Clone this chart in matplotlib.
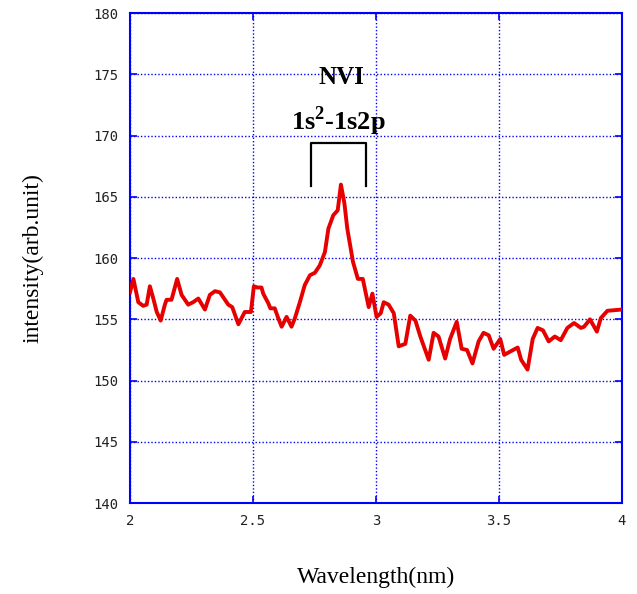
import numpy as np
import matplotlib
matplotlib.use("Agg")
import matplotlib.pyplot as plt

plt.rcParams["mathtext.fontset"] = "custom"
plt.rcParams["mathtext.rm"] = "Liberation Serif:bold"
plt.rcParams["mathtext.bf"] = "Liberation Serif:bold"

# spectrum (wavelength in nm, intensity in arb. unit)
wavelength = [2.000, 2.014, 2.034, 2.054, 2.068, 2.081, 2.095, 2.109, 2.125, 2.142,
              2.149, 2.169, 2.192, 2.210, 2.237, 2.257, 2.278, 2.305, 2.325, 2.346,
              2.366, 2.400, 2.416, 2.441, 2.467, 2.492, 2.504,
              2.518, 2.535, 2.542, 2.563, 2.571, 2.589, 2.603, 2.617, 2.637, 2.657,
              2.671, 2.691, 2.711, 2.732, 2.752, 2.772, 2.793, 2.807, 2.827, 2.845,
              2.858, 2.872, 2.884, 2.907, 2.927, 2.947, 2.971, 2.986, 3.003, 3.020,
              3.032, 3.052, 3.073, 3.093, 3.120, 3.140, 3.161, 3.181, 3.215, 3.235,
              3.255, 3.282, 3.302, 3.329, 3.349, 3.371, 3.393, 3.418, 3.438, 3.459,
              3.479, 3.506, 3.522, 3.549, 3.577, 3.591, 3.617, 3.638, 3.658, 3.680,
              3.703, 3.728, 3.752, 3.779, 3.806, 3.834, 3.847, 3.871, 3.899, 3.915,
              3.942, 4.000]
intensity = [157.2, 158.3, 156.4, 156.1, 156.2, 157.7, 156.7, 155.6, 154.9, 156.2,
             156.6, 156.6, 158.3, 157.0, 156.2, 156.4, 156.7, 155.8, 157.0, 157.3,
             157.2, 156.2, 156.0, 154.6, 155.6, 155.6, 157.7,
             157.6, 157.6, 157.1, 156.3, 155.9, 155.9, 155.1, 154.4, 155.2, 154.4,
             155.1, 156.4, 157.8, 158.6, 158.8, 159.4, 160.5, 162.4, 163.5, 163.9,
             166.0, 164.5, 162.4, 159.7, 158.3, 158.3, 156.0, 157.1, 155.2, 155.5,
             156.4, 156.2, 155.5, 152.8, 153.0, 155.3, 154.9, 153.6, 151.7, 153.9,
             153.6, 151.8, 153.4, 154.8, 152.6, 152.5, 151.4, 153.2, 153.9, 153.7,
             152.6, 153.4, 152.1, 152.4, 152.7, 151.7, 150.9, 153.4, 154.3, 154.1,
             153.2, 153.6, 153.3, 154.3, 154.7, 154.3, 154.4, 155.0, 154.0, 155.1,
             155.7, 155.8]

x_ticks = [2, 2.5, 3, 3.5, 4]
x_tick_labels = ["2", "2.5", "3", "3.5", "4"]
y_ticks = [140, 145, 150, 155, 160, 165, 170, 175, 180]

fig = plt.figure(figsize=(6.37, 5.94), dpi=100)
ax = fig.add_axes([0.204, 0.153, 0.772, 0.825])

ax.plot(wavelength, intensity, color="#e60000", linewidth=2.8, zorder=3)

ax.set_xlim(2, 4)
ax.set_ylim(140, 180)
ax.set_xticks(x_ticks)
ax.set_xticklabels(x_tick_labels)
ax.set_yticks(y_ticks)

blue = "#0000ff"
ax.grid(True, color=blue, linestyle=(0, (1, 1.5)), linewidth=1.0)
for s in ax.spines.values():
    s.set_color(blue)
    s.set_linewidth(1.5)
ax.tick_params(direction="in", length=5, width=1.2, color=blue,
               top=True, right=True, labelsize=10, pad=8)
for lab in ax.get_xticklabels() + ax.get_yticklabels():
    lab.set_family("DejaVu Sans Mono")
    lab.set_color("#222222")

ax.set_xlabel("Wavelength(nm)", family="Liberation Serif", fontsize=17, labelpad=28)
ax.set_ylabel("intensity(arb.unit)", family="Liberation Serif", fontsize=17, labelpad=36)

# transition bracket and labels
ax.plot([2.736, 2.736, 2.959, 2.959], [165.9, 169.4, 169.4, 165.9],
        color="black", linewidth=1.6, zorder=4)
ax.text(2.862, 174.7, "NVI", family="Liberation Serif", fontweight="bold",
        fontsize=18, ha="center", va="center")
ax.text(2.846, 171.2, r"1s$^{\mathrm{2}}$-1s2p", family="Liberation Serif",
        fontweight="bold", fontsize=19, ha="center", va="center")

fig.savefig("out.png", dpi=100)
